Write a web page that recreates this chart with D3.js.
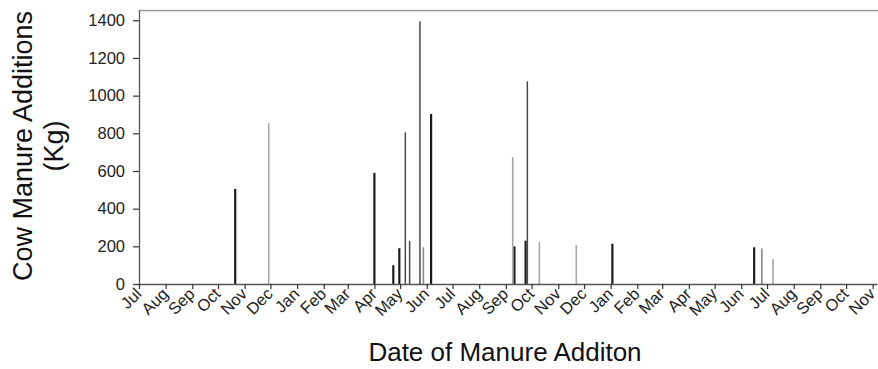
<!DOCTYPE html>
<html lang="en">
<head>
    <meta charset="UTF-8" />
    <title>Cow Manure Additions</title>
    <script src="https://d3js.org/d3.v7.min.js"></script>
    <style>
        body {
            margin: 0;
            background: #fff;
            font-family: "Liberation Sans", Arial, sans-serif;
        }
        #chart svg {
            display: block;
        }
        .tick text {
            fill: #222;
            font-family: "Liberation Sans", Arial, sans-serif;
        }
    </style>
</head>
<body>
<div id="chart"></div>

<script>
    // Manure additions, grouped by series (dates)
    const seriesNames = ["A", "B", "C", "D"];

    const additionsA = [
        { date: "2010-10-21", kg: 505 },
        { date: "2011-04-01", kg: 590 },
        { date: "2011-04-23", kg: 100 },
        { date: "2011-04-30", kg: 190 },
        { date: "2011-06-06", kg: 903 },
        { date: "2011-09-11", kg: 200 },
        { date: "2011-09-24", kg: 230 },
        { date: "2012-01-03", kg: 214 },
        { date: "2012-06-16", kg: 195 }
    ];

    const additionsB = [
        { date: "2011-05-07", kg: 805 },
        { date: "2011-05-12", kg: 229 },
        { date: "2011-05-24", kg: 1395 },
        { date: "2011-09-26", kg: 1076 }
    ];

    const additionsC = [
        { date: "2011-05-28", kg: 195 },
        { date: "2012-06-25", kg: 188 }
    ];

    const additionsD = [
        { date: "2010-11-29", kg: 855 },
        { date: "2011-09-09", kg: 674 },
        { date: "2011-10-10", kg: 222 },
        { date: "2011-11-22", kg: 207 },
        { date: "2012-07-08", kg: 133 }
    ];

    const xDomain = ["2010-07-01", "2012-11-06"];
    const yTicks = [0, 200, 400, 600, 800, 1000, 1200, 1400];

    const W = 878, H = 369;
    const margin = { top: 10.5, right: 1, bottom: 85, left: 139 };
    const parse = d3.timeParse("%Y-%m-%d");

    const svg = d3.select("#chart").append("svg")
        .attr("width", W)
        .attr("height", H);

    const x = d3.scaleTime()
        .domain(xDomain.map(parse))
        .range([margin.left, W - margin.right]);

    const y = d3.scaleLinear()
        .domain([0, 1452])
        .range([H - margin.bottom, margin.top]);

    const color = d3.scaleOrdinal()
        .domain(seriesNames)
        .range(["#1c1c1c", "#484848", "#8a8a8a", "#a8a8a8"]);

    const width = d3.scaleOrdinal()
        .domain(seriesNames)
        .range([2.2, 1.5, 1.6, 1.6]);

    // top frame line
    svg.append("line")
        .attr("x1", margin.left).attr("x2", W)
        .attr("y1", margin.top).attr("y2", margin.top)
        .attr("stroke", "#9a9a9a")
        .attr("stroke-width", 1.5);

    // bars (drawn as vertical lines)
    const all = [additionsA, additionsB, additionsC, additionsD];
    all.forEach((arr, i) => {
        svg.append("g")
            .selectAll("line")
            .data(arr)
            .join("line")
            .attr("x1", d => x(parse(d.date)))
            .attr("x2", d => x(parse(d.date)))
            .attr("y1", y(0))
            .attr("y2", d => y(d.kg))
            .attr("stroke", color(seriesNames[i]))
            .attr("stroke-width", width(seriesNames[i]));
    });

    // x axis
    const xAxis = svg.append("g")
        .attr("transform", `translate(0,${y(0)})`)
        .call(d3.axisBottom(x)
            .ticks(d3.timeMonth.every(1))
            .tickFormat(d3.timeFormat("%b"))
            .tickSize(5)
            .tickSizeOuter(0));
    xAxis.select(".domain").attr("stroke", "#555").attr("stroke-width", 1.3);
    xAxis.selectAll(".tick line").attr("stroke", "#333").attr("stroke-width", 1.2);
    xAxis.selectAll(".tick text")
        .style("font-size", "16.5px")
        .attr("text-anchor", "end")
        .attr("dy", null)
        .attr("x", 0)
        .attr("y", 0)
        .attr("transform", "translate(3,11) rotate(-45)");

    // y axis
    const yAxis = svg.append("g")
        .attr("transform", `translate(${margin.left},0)`)
        .call(d3.axisLeft(y)
            .tickValues(yTicks)
            .tickFormat(d3.format("d"))
            .tickSize(6)
            .tickSizeOuter(0));
    yAxis.select(".domain").attr("stroke", "#555").attr("stroke-width", 1.3)
        .attr("d", `M0.5,${y(0)}V${margin.top}`);
    yAxis.selectAll(".tick line").attr("stroke", "#333").attr("stroke-width", 1.2);
    yAxis.selectAll(".tick text")
        .style("font-size", "16.5px")
        .attr("x", -14);

    // axis titles
    const yTitle = svg.append("text")
        .attr("transform", "translate(32,146) rotate(-90)")
        .attr("text-anchor", "middle")
        .attr("font-size", 27)
        .attr("fill", "#111");
    yTitle.append("tspan").attr("x", 0).attr("dy", 0).text("Cow Manure Additions");
    yTitle.append("tspan").attr("x", 0).attr("dy", 31).text("(Kg)");

    svg.append("text")
        .attr("x", 505)
        .attr("y", 361)
        .attr("text-anchor", "middle")
        .attr("font-size", 26)
        .attr("fill", "#111")
        .text("Date of Manure Additon");
</script>
</body>
</html>
